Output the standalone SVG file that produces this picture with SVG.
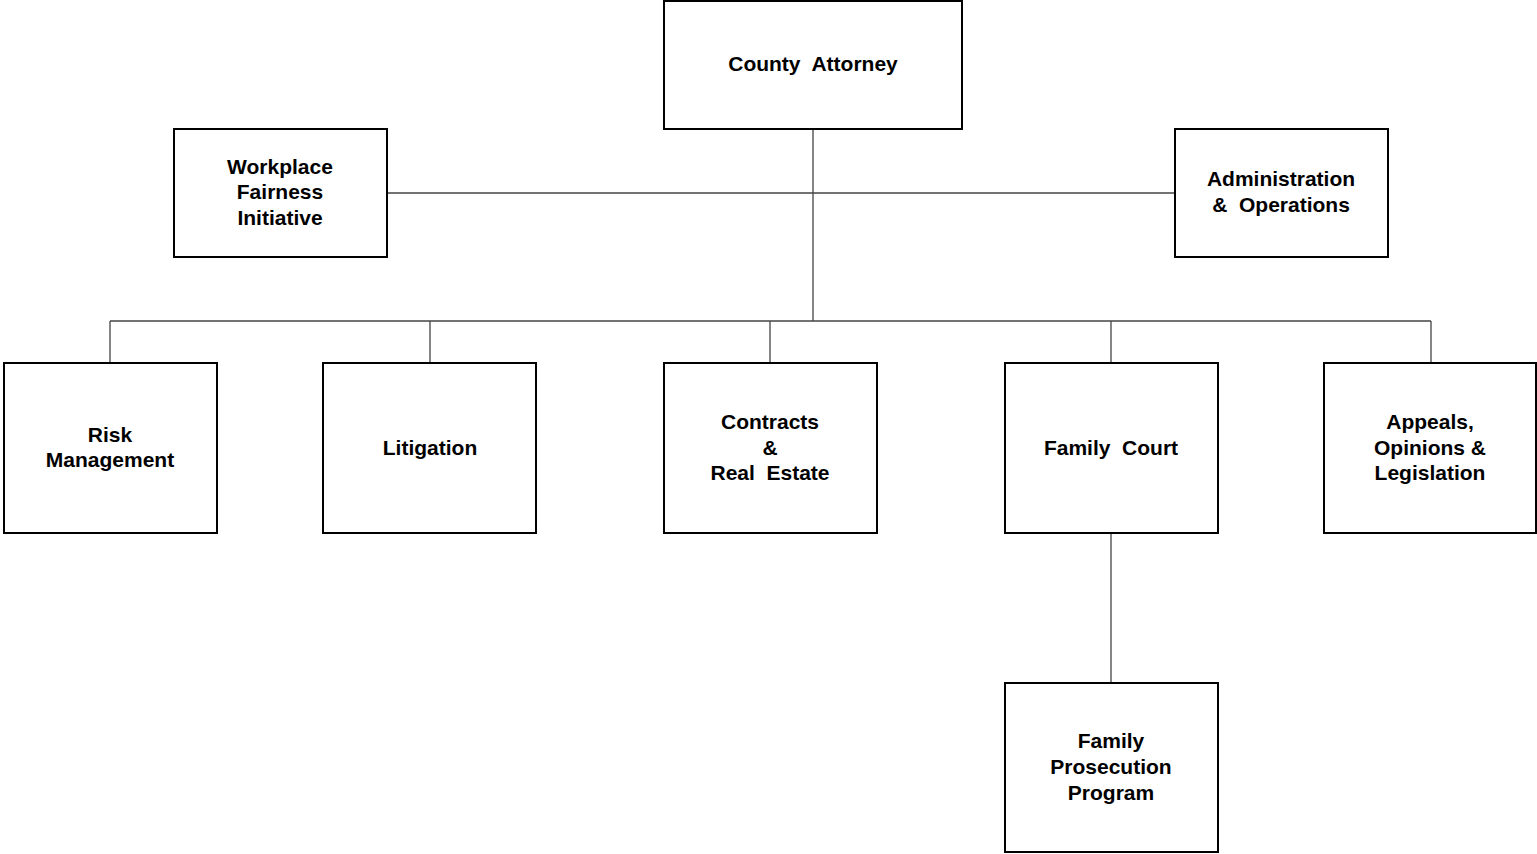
<svg xmlns="http://www.w3.org/2000/svg" width="1537" height="854" viewBox="0 0 1537 854">
<style>
.box{fill:#fff;stroke:#000;stroke-width:2}
.t{font-family:"Liberation Sans",Arial,sans-serif;font-weight:bold;font-size:21px;text-anchor:middle;fill:#000;white-space:pre}
.c{stroke:#444;stroke-width:1.3;fill:none}
</style>
<rect width="1537" height="854" fill="#fff"/>
<g id="connectors">
<path class="c" d="M813 129V321M387 193H1175M110 321H1431M110 321V363M430 321V363M770 321V363M1111 321V363M1431 321V363M1111 533V683"/>
</g>
<g id="county-attorney"><rect class="box" x="664" y="1" width="298" height="128"/><text class="t" x="813" y="71" xml:space="preserve">County  Attorney</text></g>
<g id="workplace"><rect class="box" x="174" y="129" width="213" height="128"/><text class="t" x="280" y="174">Workplace</text><text class="t" x="280" y="199">Fairness</text><text class="t" x="280" y="225">Initiative</text></g>
<g id="admin"><rect class="box" x="1175" y="129" width="213" height="128"/><text class="t" x="1281" y="186">Administration</text><text class="t" x="1281" y="212" xml:space="preserve">&amp;  Operations</text></g>
<g id="risk"><rect class="box" x="4" y="363" width="213" height="170"/><text class="t" x="110" y="442">Risk</text><text class="t" x="110" y="467">Management</text></g>
<g id="litigation"><rect class="box" x="323" y="363" width="213" height="170"/><text class="t" x="430" y="455">Litigation</text></g>
<g id="contracts"><rect class="box" x="664" y="363" width="213" height="170"/><text class="t" x="770" y="429">Contracts</text><text class="t" x="770" y="455">&amp;</text><text class="t" x="770" y="480" xml:space="preserve">Real  Estate</text></g>
<g id="family-court"><rect class="box" x="1005" y="363" width="213" height="170"/><text class="t" x="1111" y="455" xml:space="preserve">Family  Court</text></g>
<g id="appeals"><rect class="box" x="1324" y="363" width="212" height="170"/><text class="t" x="1430" y="429">Appeals,</text><text class="t" x="1430" y="455">Opinions &amp;</text><text class="t" x="1430" y="480">Legislation</text></g>
<g id="family-prosecution"><rect class="box" x="1005" y="683" width="213" height="169"/><text class="t" x="1111" y="748">Family</text><text class="t" x="1111" y="774">Prosecution</text><text class="t" x="1111" y="800">Program</text></g>
</svg>
